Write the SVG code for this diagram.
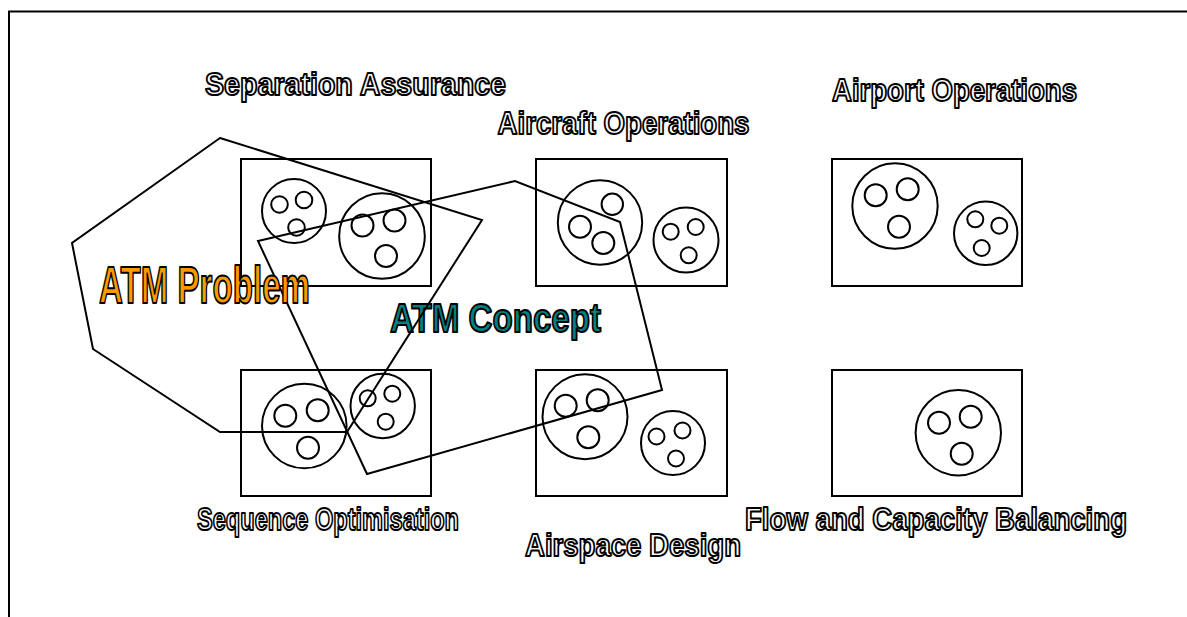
<svg xmlns="http://www.w3.org/2000/svg" width="1187" height="617" viewBox="0 0 1187 617">
<style>
  .frame{fill:none;stroke:#000;stroke-width:2}
  .box{fill:none;stroke:#000;stroke-width:2}
  .c{fill:none;stroke:#000;stroke-width:2}
  .poly{fill:none;stroke:#000;stroke-width:2;stroke-linejoin:miter}
  .lbl{font-family:"Liberation Sans",Arial,sans-serif;font-weight:bold;font-size:32px;fill:#fff;stroke:#000;stroke-width:2;stroke-linejoin:round}
  .big{font-family:"Liberation Sans",Arial,sans-serif;font-weight:bold;stroke:#000;stroke-width:2;stroke-linejoin:round}
</style>
<rect width="1187" height="617" fill="#fff"/>
<path class="frame" d="M9,617 V11.5 H1187"/>

<g id="node-separation-assurance">
  <rect class="box" x="241" y="159" width="190" height="127"/>
  <circle class="c" cx="294" cy="211" r="32"/>
  <circle class="c" cx="279.5" cy="204.5" r="8.3"/>
  <circle class="c" cx="304" cy="200" r="8.3"/>
  <circle class="c" cx="296.5" cy="227.5" r="8.3"/>
  <circle class="c" cx="382" cy="236" r="42.8"/>
  <circle class="c" cx="362.5" cy="225.5" r="11"/>
  <circle class="c" cx="394.5" cy="220.5" r="11"/>
  <circle class="c" cx="386" cy="256" r="11"/>
  <text class="lbl" x="205" y="95" textLength="301" lengthAdjust="spacingAndGlyphs">Separation Assurance</text>
</g>

<g id="node-aircraft-operations">
  <rect class="box" x="536" y="159" width="191" height="127"/>
  <circle class="c" cx="600" cy="222.5" r="42.2"/>
  <circle class="c" cx="612.3" cy="204.3" r="10.7"/>
  <circle class="c" cx="580" cy="226.7" r="11"/>
  <circle class="c" cx="603.3" cy="243" r="11"/>
  <circle class="c" cx="686" cy="240" r="32.5"/>
  <circle class="c" cx="670.7" cy="231.7" r="8"/>
  <circle class="c" cx="695.7" cy="227" r="8"/>
  <circle class="c" cx="688.7" cy="255.3" r="8"/>
  <text class="lbl" x="497.5" y="134" textLength="252" lengthAdjust="spacingAndGlyphs">Aircraft Operations</text>
</g>

<g id="node-airport-operations">
  <rect class="box" x="832" y="159" width="190" height="127"/>
  <circle class="c" cx="895" cy="206" r="42.7"/>
  <circle class="c" cx="875.7" cy="195.3" r="11"/>
  <circle class="c" cx="907.7" cy="189.3" r="11"/>
  <circle class="c" cx="899" cy="226.7" r="11"/>
  <circle class="c" cx="985.7" cy="233.3" r="31.7"/>
  <circle class="c" cx="975.3" cy="219.3" r="8"/>
  <circle class="c" cx="999.3" cy="225.7" r="8"/>
  <circle class="c" cx="981.7" cy="248" r="8"/>
  <text class="lbl" x="832" y="101" textLength="245" lengthAdjust="spacingAndGlyphs">Airport Operations</text>
</g>

<g id="node-sequence-optimisation">
  <rect class="box" x="241" y="370" width="190" height="126"/>
  <circle class="c" cx="304.3" cy="426" r="42.3"/>
  <circle class="c" cx="285.3" cy="415.7" r="11"/>
  <circle class="c" cx="317.7" cy="410.3" r="11"/>
  <circle class="c" cx="308" cy="447.7" r="11"/>
  <circle class="c" cx="382.7" cy="406" r="32.2"/>
  <circle class="c" cx="367.7" cy="398.3" r="8"/>
  <circle class="c" cx="392.3" cy="393.7" r="8"/>
  <circle class="c" cx="385.7" cy="421.7" r="8"/>
  <text class="lbl" x="197" y="530" textLength="262" lengthAdjust="spacingAndGlyphs">Sequence Optimisation</text>
</g>

<g id="node-airspace-design">
  <rect class="box" x="536" y="370" width="191" height="126"/>
  <circle class="c" cx="585" cy="416.7" r="42.5"/>
  <circle class="c" cx="565.7" cy="405.7" r="11"/>
  <circle class="c" cx="597.7" cy="400.3" r="11"/>
  <circle class="c" cx="588.3" cy="437.3" r="11"/>
  <circle class="c" cx="673" cy="443" r="32"/>
  <circle class="c" cx="656.5" cy="436.5" r="8"/>
  <circle class="c" cx="682.5" cy="430.5" r="8"/>
  <circle class="c" cx="676" cy="458.5" r="8"/>
  <text class="lbl" x="525" y="556" textLength="216" lengthAdjust="spacingAndGlyphs">Airspace Design</text>
</g>

<g id="node-flow-capacity-balancing">
  <rect class="box" x="832" y="370" width="190" height="126"/>
  <circle class="c" cx="958.3" cy="432.7" r="42.7"/>
  <circle class="c" cx="939" cy="422.7" r="11"/>
  <circle class="c" cx="970.7" cy="416.7" r="11"/>
  <circle class="c" cx="961.7" cy="453.7" r="11"/>
  <text class="lbl" x="745" y="530" textLength="382" lengthAdjust="spacingAndGlyphs">Flow and Capacity Balancing</text>
</g>

<g id="node-atm-concept">
  <text class="big" x="390" y="332" font-size="40" fill="#008080" textLength="211" lengthAdjust="spacingAndGlyphs">ATM Concept</text>
  <polygon class="poly" points="258,241 515,181 620,222 662,390 367,474"/>
</g>

<g id="node-atm-problem">
  <polygon class="poly" points="220,138 482,220 347,432 220,432 93,349 72,243"/>
  <text class="big" x="99" y="303" font-size="52" fill="#ff9900" textLength="211" lengthAdjust="spacingAndGlyphs">ATM Problem</text>
</g>

<g id="connectors"></g>
</svg>
